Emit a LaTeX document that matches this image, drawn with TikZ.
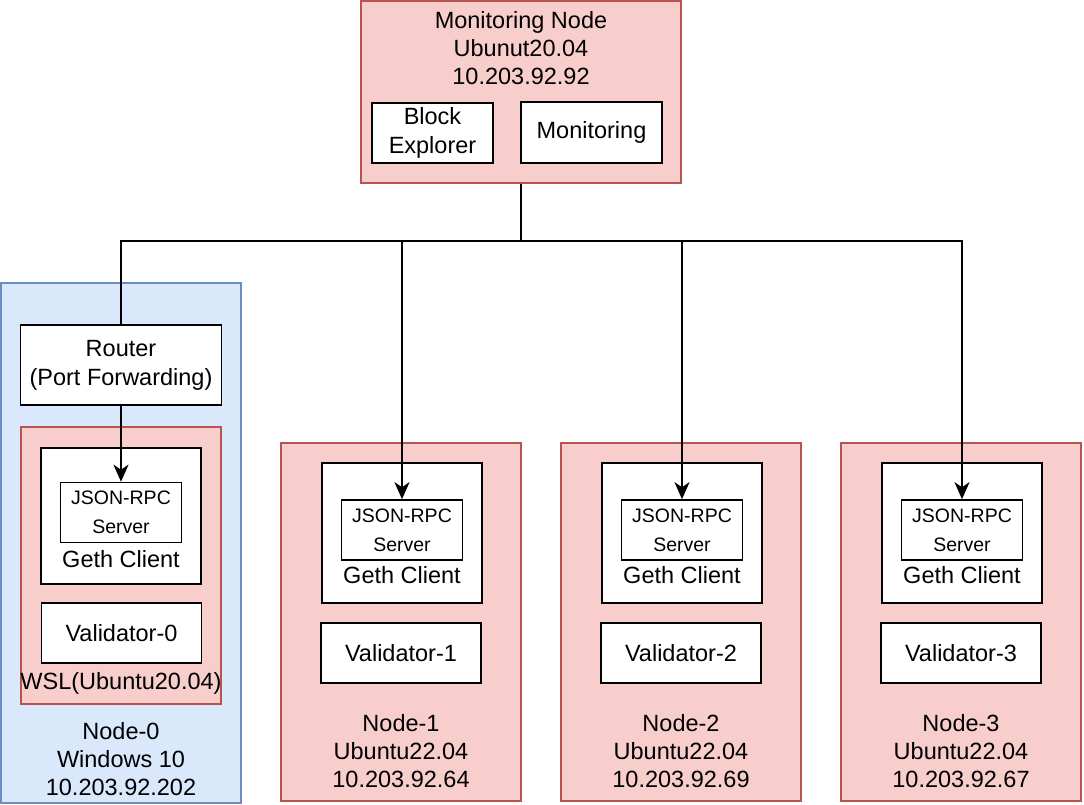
\documentclass[tikz,border=0pt]{standalone}
\usepackage{fontspec}
\setmainfont{Liberation Sans}
\usetikzlibrary{arrows.meta}

\definecolor{redfill}{HTML}{F8CECC}
\definecolor{redline}{HTML}{B85450}
\definecolor{bluefill}{HTML}{DAE8FC}
\definecolor{blueline}{HTML}{6C8EBF}

\tikzset{
  hostbox/.style={draw=redline,fill=redfill,line width=1.6pt,inner sep=0pt},
  winbox/.style={draw=blueline,fill=bluefill,line width=1.6pt,inner sep=0pt},
  partbox/.style={draw,fill=white,line width=1.6pt,inner sep=0pt,align=center,
    font=\fontsize{23.5}{29}\selectfont},
  rpcbox/.style={draw,fill=white,line width=1.6pt,inner sep=0pt,align=center,
    font=\fontsize{19.5}{29}\selectfont,minimum width=121pt,minimum height=60pt},
  caption/.style={inner sep=0pt,align=center,font=\fontsize{23.5}{28}\selectfont},
  link/.style={line width=2pt,-{Stealth[length=17pt,width=15pt,inset=5pt]}},
  wire/.style={line width=2pt}
}

\begin{document}
\begin{tikzpicture}[x=1pt,y=-1pt]
    \useasboundingbox (0,0) rectangle (1084,804);
    % Monitoring node on top
    \node[hostbox,minimum width=320pt,minimum height=182pt] (mon) at (521,92) {};
    \node[caption] (montitle) at (521,48) {Monitoring Node\\Ubunut20.04\\10.203.92.92};
    \node[partbox,minimum width=121pt,minimum height=60pt] (explorer) at (432.5,133) {Block\\Explorer};
    \node[partbox,minimum width=141pt,minimum height=61pt] (monitor) at (591.5,132.5) {Monitoring};
    \coordinate (bus) at (521,241);% where the lines split
    % Node-0 (Windows host with WSL)
    \node[winbox,minimum width=240pt,minimum height=520pt] (host0) at (121,543) {};
    \node[partbox,minimum width=201pt,minimum height=80pt] (router) at (121,365) {Router\\(Port Forwarding)};
    \node[hostbox,minimum width=200pt,minimum height=277pt] (wsl) at (121,565.5) {};
    \node[partbox,minimum width=160pt,minimum height=136pt] (geth0) at (121,516) {};
    \node[rpcbox] (rpc0) at (121,512.5) {JSON-RPC\\Server};
    \node[caption] (gethname0) at (121,559) {Geth Client};
    \node[partbox,minimum width=160pt,minimum height=60pt] (val0) at (121.5,633) {Validator-0};
    \node[caption] (wslname) at (121,683) {WSL(Ubuntu20.04)};
    \node[caption] (hostname0) at (121,759) {Node-0\\Windows 10\\10.203.92.202};
    \draw[wire] (mon.south) -- (bus) -| (router.north);
    \draw[link] (router.south) -- (rpc0.north);
    % Node-1 .. Node-3 (Ubuntu hosts)
    \foreach \k/\xc/\ip in {1/401/64,2/681/69,3/961/67}{%
      \node[hostbox,minimum width=240pt,minimum height=358pt] (host\k) at (\xc,622) {};
      \node[partbox,minimum width=160pt,minimum height=140pt] (geth\k) at (\xc+1,533) {};
      \node[rpcbox] (rpc\k) at (\xc+1,530) {JSON-RPC\\Server};
      \node[caption] (gethname\k) at (\xc+1,575) {Geth Client};
      \node[partbox,minimum width=160pt,minimum height=60pt] (val\k) at (\xc,653) {Validator-\k};
      \node[caption] (hostname\k) at (\xc,751) {Node-\k\\Ubuntu22.04\\10.203.92.\ip};
      \draw[link] (mon.south) -- (bus) -| (rpc\k.north);
    }
\end{tikzpicture}
\end{document}
